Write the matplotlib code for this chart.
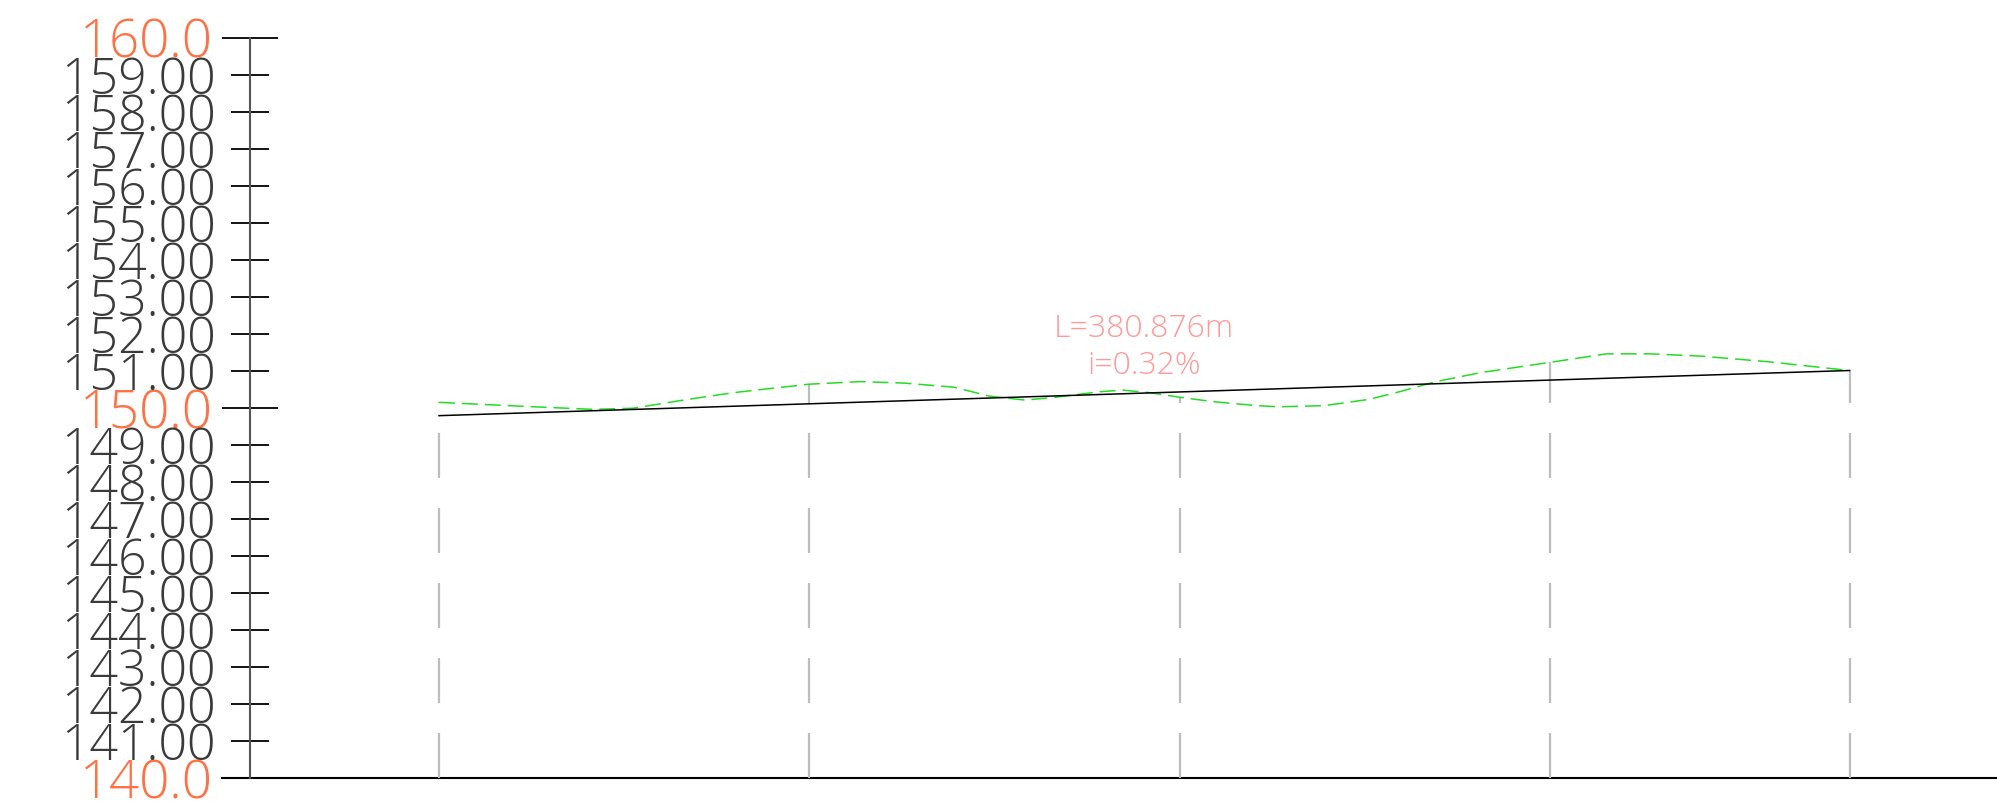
import numpy as np
import matplotlib.pyplot as plt
from matplotlib.ticker import FixedLocator, FixedFormatter

plt.rcParams["lines.scale_dashes"] = False
plt.rcParams["font.family"] = ["Open Sans", "DejaVu Sans"]

# pipe profile data (station in m, elevation in m)
stations = [0, 100, 200, 300, 380.876]
station_ground = [150.15, 150.64, 150.29, 151.23, 151.01]

ground_s = [0, 21, 41.6, 52.4, 65.9, 79.4, 99.9, 113.7, 125.6, 139, 148.5,
            158.3, 166.6, 178.8, 184.7, 192, 199.8, 208.9, 220.9, 226.8, 239,
            251.1, 259.5, 269.2, 281.1, 300, 315.3, 327, 340.5, 358.5, 380.876]
ground_e = [150.15, 150.05, 149.96, 149.99, 150.21, 150.41, 150.64, 150.71,
            150.67, 150.56, 150.32, 150.21, 150.29, 150.44, 150.48, 150.41,
            150.29, 150.17, 150.06, 150.03, 150.06, 150.23, 150.44, 150.71,
            150.95, 151.23, 151.46, 151.46, 151.40, 151.25, 151.01]

design_s = [0, 380.876]
design_e = [149.79, 151.01]

length_label = "L=380.876m"
slope_label = "i=0.32%"

major_ticks = [140, 150, 160]
major_labels = ["140.0", "150.0", "160.0"]
minor_ticks = [v for v in range(141, 160) if v != 150]
minor_labels = [f"{v:.2f}" for v in minor_ticks]

# layout (data units)
axis_x = -51.0
x_lim = (-118.55, 420.7)
y_lim = (139.138, 161.018)

fig = plt.figure(figsize=(19.97, 8.10), dpi=100)
ax = fig.add_axes([0, 0, 1, 1])
ax.set_xlim(*x_lim)
ax.set_ylim(*y_lim)

# elevation scale on the left
for side in ["top", "right", "bottom"]:
    ax.spines[side].set_visible(False)
ax.spines["left"].set_position(("data", axis_x))
ax.spines["left"].set_bounds(140, 160)
ax.spines["left"].set_color("#555555")
ax.spines["left"].set_linewidth(1.5)
ax.xaxis.set_visible(False)

ax.yaxis.set_major_locator(FixedLocator(major_ticks))
ax.yaxis.set_major_formatter(FixedFormatter(major_labels))
ax.yaxis.set_minor_locator(FixedLocator(minor_ticks))
ax.yaxis.set_minor_formatter(FixedFormatter(minor_labels))
ax.tick_params(axis="y", which="major", direction="inout", length=40.5,
               width=1.3, color="black", pad=7, labelsize=38,
               labelcolor="#ff7043")
ax.tick_params(axis="y", which="minor", direction="inout", length=27.5,
               width=1.3, color="black", pad=11, labelsize=36,
               labelcolor="#3a3a3a")
for lab in ax.get_yticklabels() + ax.get_yticklabels(minor=True):
    lab.set_fontweight("light")

# baseline at the bottom elevation
ax.plot([axis_x - 7.6, x_lim[1]], [140, 140], color="black", lw=1.5)

# station lines
ax.vlines(stations, 140, station_ground, colors="#bdbdbd", lw=1.6,
          linestyles=[(0, (32.4, 21.6))])

# ground line
ax.plot(ground_s, ground_e, color="#22dd22", lw=1.1, ls=(0, (11.5, 5)))

# design pipe line
ax.plot(design_s, design_e, color="black", lw=1.1)

mid_s = (design_s[0] + design_s[1]) / 2
mid_e = (design_e[0] + design_e[1]) / 2
ax.text(mid_s, mid_e + 1.73, length_label, ha="center", va="center",
        fontsize=23, color="#ff9a9a", fontweight="light")
ax.text(mid_s, mid_e + 0.73, slope_label, ha="center", va="center",
        fontsize=23, color="#ff9a9a", fontweight="light")

fig.savefig("out.png", dpi=100, facecolor="white")
